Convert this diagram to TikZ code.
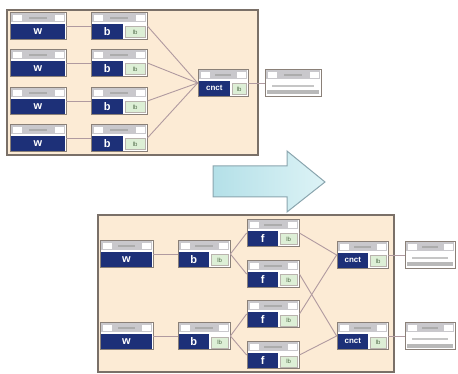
\documentclass[tikz,border=0pt]{standalone}
\usepackage{fontspec}
\setmainfont{Liberation Sans}
\usetikzlibrary{calc}

\definecolor{navy}{HTML}{1D3078}
\definecolor{panelfill}{HTML}{FCEBD5}
\definecolor{paneledge}{HTML}{7A7068}
\definecolor{boxedge}{HTML}{8A8078}
\definecolor{headgray}{HTML}{C9C8CC}
\definecolor{taggreen}{HTML}{DDEFD6}
\definecolor{tagtext}{HTML}{4F6A48}
\definecolor{linkcol}{HTML}{B09AA0}
\definecolor{arrowdark}{HTML}{B4E0E8}
\definecolor{arrowlight}{HTML}{DDF3F6}
\definecolor{arrowedge}{HTML}{8AA5AE}

\tikzset{
    panel/.style={draw=paneledge, fill=panelfill, line width=1.6pt, inner sep=0pt},
    unitbox/.style={draw=boxedge, fill=white, line width=0.8pt, minimum height=27pt, inner sep=0pt},
    headbar/.style={fill=headgray, minimum height=9pt, inner sep=0pt},
    headend/.style={fill=white, minimum width=9pt, minimum height=6pt, inner sep=0pt},
    headtext/.style={fill=gray!65, minimum height=2.5pt, inner sep=0pt},
    navybar/.style={fill=navy, text=white, font=\bfseries\fontsize{11}{11}\selectfont,
        minimum height=15pt, inner sep=0pt},
    tag/.style={draw=boxedge!60, fill=taggreen, text=tagtext, font=\fontsize{6}{6}\selectfont,
        minimum height=11pt, inner sep=0pt},
    link/.style={draw=linkcol, line width=0.9pt},
    bigarrow/.style={draw=arrowedge, line width=1pt, left color=arrowdark, right color=arrowlight}
}

% block with a grey title strip
\newcommand{\unithead}[3]{%
    \node[unitbox, minimum width=#3] (#1) at (#2) {};
    \node[headbar, minimum width=#3-2, anchor=north] (#1-head) at ([yshift=-1pt]#1.north) {};
    \node[headend, anchor=west] at ([xshift=1.5pt]#1-head.west) {};
    \node[headend, anchor=east] at ([xshift=-1.5pt]#1-head.east) {};
    \node[headtext, minimum width=#3/3] at (#1-head.center) {};
}
\newcommand{\unitblk}[5]{%
    \unithead{#1}{#2}{#3}
    \node[navybar, minimum width=#4, anchor=south west] at ([shift={(1pt,1pt)}]#1.south west) {#5};
}
\newcommand{\tagblk}[5]{%
    \unitblk{#1}{#2}{#3}{#4}{#5}
    \node[tag, minimum width=#3-#4-5, anchor=south east] at ([shift={(-2pt,2pt)}]#1.south east) {lb};
}
\newcommand{\outblk}[3]{%
    \unithead{#1}{#2}{#3}
    \node[headtext, fill=gray!45, minimum width=#3-14] at ([yshift=-3pt]#1.center) {};
    \node[headtext, fill=gray!55, minimum width=#3-4, minimum height=4pt] at ([yshift=-9.5pt]#1.center) {};
}

\begin{document}
\begin{tikzpicture}[x=1pt, y=-1pt]
    \useasboundingbox (0,0) rectangle (458,374);

    % before
    \node[panel, minimum width=251, minimum height=145] (before) at (132.5,82.5) {};
    \foreach \i/\y in {1/26, 2/63, 3/101, 4/138} {
        \unitblk{w\i}{38,\y}{56}{54}{w}
        \tagblk{b\i}{119,\y}{56}{31}{b}
    }
    \tagblk{cnct}{223,83}{50}{31}{\fontsize{8}{8}\selectfont cnct}
    \outblk{out}{293,83}{56}
    \foreach \i in {1,...,4} {
        \draw[link] (w\i) -- (b\i);
        \draw[link] (b\i.east) -- (cnct.west);
    }
    \draw[link] (cnct) -- (out);

    % arrow
    \draw[bigarrow] (213,166) -- (287,166) -- (287,151) -- (325,182)
        -- (287,212) -- (287,197) -- (213,197) -- cycle;

    % after
    \node[panel, minimum width=296, minimum height=157] (after) at (246,293.5) {};
    \unitblk{wa}{126.5,254}{53}{51}{w}
    \unitblk{wb}{126.5,336}{53}{51}{w}
    \tagblk{ba}{204,254}{52}{30}{b}
    \tagblk{bb}{204,336}{52}{30}{b}
    \foreach \i/\y in {1/233, 2/274, 3/314, 4/355} {
        \tagblk{f\i}{273,\y}{52}{30}{f}
    }
    \tagblk{ca}{362.5,255}{51}{30}{\fontsize{8}{8}\selectfont cnct}
    \tagblk{cb}{362.5,336}{51}{30}{\fontsize{8}{8}\selectfont cnct}
    \outblk{oa}{430,255}{50}
    \outblk{ob}{430,336}{50}
    \draw[link] (wa) -- (ba);
    \draw[link] (wb) -- (bb);
    \draw[link] (ba.east) -- (f1.west);
    \draw[link] (ba.east) -- (f2.west);
    \draw[link] (bb.east) -- (f3.west);
    \draw[link] (bb.east) -- (f4.west);
    \draw[link] (f1.east) -- (ca.west);
    \draw[link] (f3.east) -- (ca.west);
    \draw[link] (f2.east) -- (cb.west);
    \draw[link] (f4.east) -- (cb.west);
    \draw[link] (ca) -- (oa);
    \draw[link] (cb) -- (ob);
\end{tikzpicture}
\end{document}
